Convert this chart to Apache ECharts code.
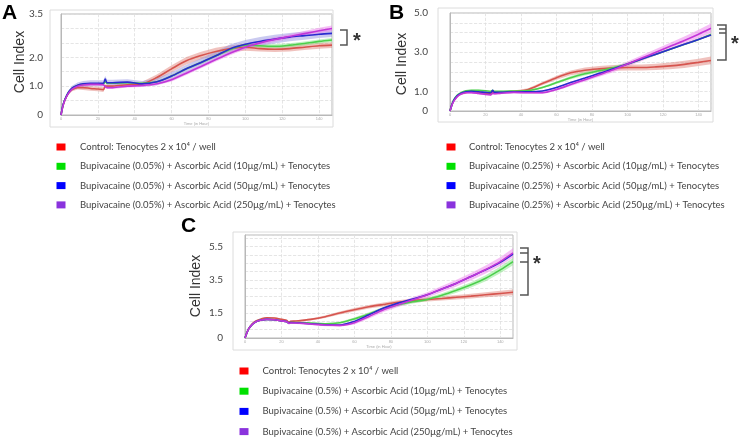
<!DOCTYPE html>
<html><head><meta charset="utf-8">
<script src="https://cdn.jsdelivr.net/npm/echarts@6/dist/echarts.min.js"></script>
<style>html,body{margin:0;padding:0;background:#fff}#c{width:741px;height:440px}</style>
</head><body><div id="c"></div>
<script>
// ---- time points (hours) ----
const hours = [0,1,2,4,6,9,12,16,20,23,24,25,28,36,44,52,60,68,76,84,92,100,108,116,124,132,140,147];

// ---- Panel A: Bupivacaine 0.05% ----
const controlA = [0,0.3,0.5,0.75,0.88,0.95,0.95,0.92,0.9,0.88,1.0,1.0,1.0,1.05,1.08,1.3,1.6,1.88,2.06,2.2,2.3,2.35,2.3,2.28,2.3,2.35,2.4,2.42];
const aa10A    = [0,0.32,0.52,0.78,0.92,1.02,1.06,1.08,1.08,1.08,1.15,1.1,1.1,1.12,1.1,1.15,1.35,1.6,1.82,2.05,2.28,2.42,2.4,2.38,2.42,2.48,2.55,2.6];
const aa50A    = [0,0.32,0.52,0.78,0.93,1.03,1.08,1.1,1.1,1.1,1.25,1.12,1.12,1.14,1.08,1.15,1.35,1.6,1.82,2.05,2.3,2.45,2.55,2.63,2.7,2.75,2.8,2.83];
const aa250A   = [0,0.3,0.5,0.75,0.9,1.0,1.04,1.06,1.06,1.05,0.98,0.95,0.95,1.0,1.02,1.08,1.22,1.45,1.68,1.92,2.15,2.35,2.5,2.62,2.72,2.82,2.92,3.0];
const sdControlA = [0,0.02,0.03,0.05,0.06,0.07,0.08,0.08,0.08,0.08,0.06,0.06,0.06,0.06,0.07,0.1,0.12,0.13,0.13,0.13,0.12,0.12,0.1,0.1,0.1,0.1,0.1,0.1];
const sdAa10A    = [0,0.02,0.02,0.03,0.03,0.03,0.03,0.03,0.03,0.03,0.03,0.03,0.03,0.03,0.03,0.04,0.05,0.05,0.06,0.06,0.06,0.06,0.07,0.07,0.07,0.07,0.07,0.07];
const sdAa50A    = [0,0.02,0.04,0.06,0.08,0.1,0.1,0.1,0.1,0.1,0.1,0.1,0.1,0.1,0.1,0.12,0.13,0.14,0.15,0.15,0.15,0.15,0.15,0.15,0.14,0.14,0.13,0.13];
const sdAa250A   = [0,0.02,0.03,0.04,0.05,0.05,0.05,0.05,0.05,0.05,0.05,0.05,0.05,0.05,0.05,0.05,0.06,0.06,0.06,0.07,0.07,0.07,0.08,0.08,0.08,0.09,0.1,0.1];

// ---- Panel B: Bupivacaine 0.25% ----
const controlB = [0,0.3,0.5,0.75,0.88,0.95,0.98,0.95,0.9,0.87,0.95,0.92,0.95,1.0,1.1,1.4,1.7,1.95,2.08,2.15,2.2,2.22,2.22,2.25,2.3,2.38,2.48,2.58];
const aa10B    = [0,0.32,0.55,0.8,0.92,1.03,1.06,1.05,1.03,1.0,1.05,1.0,1.0,1.02,1.04,1.2,1.45,1.7,1.9,2.05,2.2,2.4,2.65,2.9,3.15,3.4,3.65,3.9];
const aa50B    = [0,0.3,0.52,0.77,0.9,0.98,1.0,0.98,0.95,0.93,1.05,0.95,0.95,0.98,0.98,1.02,1.2,1.45,1.68,1.92,2.15,2.4,2.65,2.9,3.15,3.4,3.65,3.88];
const aa250B   = [0,0.28,0.48,0.72,0.85,0.93,0.94,0.9,0.85,0.82,0.9,0.88,0.9,0.95,0.93,0.93,1.1,1.35,1.6,1.85,2.1,2.4,2.7,3.0,3.3,3.6,3.92,4.22];
const sdControlB = [0,0.02,0.03,0.04,0.04,0.05,0.05,0.05,0.05,0.05,0.05,0.05,0.05,0.05,0.06,0.08,0.1,0.12,0.14,0.15,0.15,0.15,0.15,0.16,0.17,0.18,0.19,0.2];
const sdAa10B    = [0,0.01,0.02,0.03,0.03,0.03,0.03,0.03,0.03,0.03,0.03,0.03,0.03,0.03,0.04,0.05,0.07,0.08,0.09,0.09,0.09,0.08,0.06,0.05,0.05,0.05,0.05,0.05];
const sdAa50B    = [0,0.01,0.02,0.02,0.02,0.02,0.02,0.02,0.02,0.02,0.02,0.02,0.02,0.02,0.02,0.03,0.03,0.03,0.03,0.03,0.03,0.03,0.03,0.03,0.03,0.03,0.03,0.03];
const sdAa250B   = [0,0.02,0.03,0.04,0.05,0.05,0.05,0.05,0.05,0.05,0.05,0.05,0.05,0.05,0.05,0.06,0.07,0.08,0.09,0.1,0.12,0.13,0.15,0.16,0.18,0.2,0.22,0.24];

// ---- Panel C: Bupivacaine 0.5% ----
const controlC = [0,0.3,0.55,0.85,1.02,1.15,1.22,1.2,1.12,1.05,0.95,1.0,1.02,1.12,1.28,1.5,1.7,1.88,2.02,2.15,2.25,2.32,2.38,2.45,2.52,2.6,2.68,2.75];
const aa10C    = [0,0.3,0.55,0.82,0.98,1.08,1.12,1.1,1.03,0.98,0.9,0.93,0.93,0.9,0.86,0.92,1.15,1.45,1.78,2.0,2.18,2.32,2.57,2.87,3.2,3.6,4.1,4.6];
const aa50C    = [0,0.3,0.55,0.82,0.98,1.08,1.12,1.1,1.03,0.98,0.9,0.93,0.92,0.86,0.8,0.78,1.0,1.4,1.8,2.1,2.35,2.6,2.95,3.3,3.7,4.1,4.55,5.05];
const aa250C   = [0,0.3,0.55,0.82,0.98,1.08,1.12,1.1,1.03,0.98,0.88,0.9,0.9,0.84,0.78,0.76,0.92,1.3,1.7,2.0,2.3,2.6,2.95,3.3,3.7,4.12,4.6,5.12];
const sdControlC = [0,0.02,0.03,0.04,0.05,0.05,0.05,0.05,0.05,0.05,0.05,0.05,0.05,0.06,0.07,0.09,0.1,0.11,0.12,0.12,0.13,0.13,0.13,0.14,0.14,0.15,0.16,0.17];
const sdAa10C    = [0,0.01,0.02,0.03,0.03,0.03,0.03,0.03,0.03,0.03,0.03,0.03,0.03,0.04,0.05,0.06,0.08,0.1,0.1,0.1,0.1,0.1,0.12,0.14,0.16,0.18,0.2,0.22];
const sdAa50C    = [0,0.01,0.01,0.02,0.02,0.02,0.02,0.02,0.02,0.02,0.02,0.02,0.02,0.02,0.02,0.03,0.03,0.03,0.03,0.03,0.03,0.03,0.03,0.03,0.03,0.03,0.03,0.03];
const sdAa250C   = [0,0.02,0.03,0.04,0.05,0.05,0.05,0.05,0.05,0.05,0.05,0.05,0.05,0.06,0.07,0.08,0.1,0.12,0.13,0.14,0.15,0.16,0.18,0.2,0.22,0.24,0.26,0.28];

// ---- labels ----
const namesA = ['Control: Tenocytes 2 x 10\u2074 / well',
  'Bupivacaine (0.05%) + Ascorbic Acid (10\u00b5g/mL) + Tenocytes',
  'Bupivacaine (0.05%) + Ascorbic Acid (50\u00b5g/mL) + Tenocytes',
  'Bupivacaine (0.05%) + Ascorbic Acid (250\u00b5g/mL) + Tenocytes'];
const namesB = ['Control: Tenocytes 2 x 10\u2074 / well',
  'Bupivacaine (0.25%) + Ascorbic Acid (10\u00b5g/mL) + Tenocytes',
  'Bupivacaine (0.25%) + Ascorbic Acid (50\u00b5g/mL) + Tenocytes',
  'Bupivacaine (0.25%) + Ascorbic Acid (250\u00b5g/mL) + Tenocytes'];
const namesC = ['Control: Tenocytes 2 x 10\u2074 / well',
  'Bupivacaine (0.5%) + Ascorbic Acid (10\u00b5g/mL) + Tenocytes',
  'Bupivacaine (0.5%) + Ascorbic Acid (50\u00b5g/mL) + Tenocytes',
  'Bupivacaine (0.5%) + Ascorbic Acid (250\u00b5g/mL) + Tenocytes'];
const yTicksA = [0, 1.0, 2.0, 3.5], yTickTextA = ['0','1.0','2.0','3.5'];
const yTicksB = [0, 1.0, 3.0, 5.0], yTickTextB = ['0','1.0','3.0','5.0'];
const yTicksC = [0, 1.5, 3.5, 5.5], yTickTextC = ['0','1.5','3.5','5.5'];
const panelLetters = ['A','B','C'];
const yTitle = 'Cell Index';
const xTitle = 'Time (in Hour)';

// ---- styling ----
const lineColors = ['#d6544e','#4ccf4c','#2a2ad0','#c236d8'];
const bandColors = ['rgba(222,120,110,0.45)','rgba(120,226,120,0.45)','rgba(150,150,226,0.5)','rgba(238,128,238,0.5)'];
const legendColors = ['#ff0000','#00e000','#0000ff','#8a33dd'];
const font = 'Lato, "Open Sans", sans-serif';

const panels = [
  {means:[controlA,aa10A,aa50A,aa250A], sds:[sdControlA,sdAa10A,sdAa50A,sdAa250A], names:namesA,
   grid:{left:61,top:14,width:271,height:101}, ymax:3.5, ticks:yTicksA, tickText:yTickTextA, margin:18,
   legend:{left:51.5, top:136, gap:7.3, pad:9.5}},
  {means:[controlB,aa10B,aa50B,aa250B], sds:[sdControlB,sdAa10B,sdAa50B,sdAa250B], names:namesB,
   grid:{left:450,top:13,width:261,height:98}, ymax:5.0, ticks:yTicksB, tickText:yTickTextB, margin:22,
   legend:{left:441.5, top:136, gap:7.3, pad:8.5}},
  {means:[controlC,aa10C,aa50C,aa250C], sds:[sdControlC,sdAa10C,sdAa50C,sdAa250C], names:namesC,
   grid:{left:245,top:235,width:268,height:103}, ymax:6.2, ticks:yTicksC, tickText:yTickTextC, margin:22,
   legend:{left:234.5, top:360, gap:8.2, pad:9}}
];

const grids = [], xAxes = [], yAxes = [], series = [], legends = [];
panels.forEach((p, pi) => {
  grids.push(Object.assign({show:true, borderColor:'#b8b8b8', borderWidth:1, containLabel:false}, p.grid));
  xAxes.push({type:'value', gridIndex:pi, min:0, max:147, interval:20,
    axisLine:{show:true, lineStyle:{color:'#b8b8b8'}}, axisTick:{show:false},
    axisLabel:{fontSize:4, color:'#aaa', margin:2, showMaxLabel:false},
    name:xTitle, nameLocation:'middle', nameGap:7, nameTextStyle:{fontSize:4, color:'#aaa'},
    splitLine:{show:true, lineStyle:{color:'#dedede', type:'dashed', width:0.8}}});
  yAxes.push({type:'value', gridIndex:pi, min:0, max:p.ymax, interval:0.5,
    axisLine:{show:true, lineStyle:{color:'#b8b8b8'}}, axisTick:{show:false},
    axisLabel:{fontSize:10, color:'#444', fontFamily:font, margin:p.margin, showMaxLabel:true,
      formatter: v => { const i = p.ticks.findIndex(t => Math.abs(t - v) < 1e-6); return i >= 0 ? p.tickText[i] : ''; }},
    splitLine:{show:true, lineStyle:{color:'#dedede', type:'dashed', width:0.8}}});
  // error bands (mean ± sd), drawn through the axis scales
  p.means.forEach((m, k) => {
    const sd = p.sds[k];
    series.push({type:'custom', xAxisIndex:pi, yAxisIndex:pi, silent:true, z:1,
      data: hours.map((t, i) => [t, m[i] - sd[i], m[i] + sd[i]]),
      encode:{x:0, y:[1, 2]},
      renderItem: (params, api) => {
        if (params.dataIndex !== 0) return null;
        const up = hours.map((t, i) => api.coord([t, m[i] + sd[i]]));
        const lo = hours.map((t, i) => api.coord([t, m[i] - sd[i]])).reverse();
        return {type:'polygon', shape:{points: up.concat(lo)}, style:{fill: bandColors[k]}};
      }});
  });
  // mean lines
  p.means.forEach((m, k) => {
    series.push({type:'line', name:p.names[k], xAxisIndex:pi, yAxisIndex:pi, symbol:'none', smooth:0.3,
      color:lineColors[k], lineStyle:{width:1.6, color:lineColors[k]},
      data: hours.map((t, i) => [t, m[i]]), z:3 + k});
  });
  legends.push({orient:'vertical', left:p.legend.left, top:p.legend.top, height:90, itemWidth:9, itemHeight:7,
    itemGap:p.legend.gap, icon:'rect', selectedMode:false,
    textStyle:{fontSize:9.5, color:'#444', fontFamily:font, lineHeight:12, padding:[0,0,0,p.legend.pad]},
    data: p.names.map((n, k) => ({name:n, itemStyle:{color:legendColors[k]}}))});
});

const frames = [[50,10,283,117],[438,8,275,114],[233,232,284,118]];
const titlePos = [[20,62],[402,64],[196,286]];
const letterPos = [[2,3],[389,3],[181,216]];
const graphic = [];
frames.forEach(f => graphic.push({type:'rect', shape:{x:f[0],y:f[1],width:f[2],height:f[3]},
  style:{fill:null, stroke:'#dcdcdc', lineWidth:1}, silent:true}));
titlePos.forEach(tp => graphic.push({type:'text', x:tp[0], y:tp[1], rotation:Math.PI/2,
  style:{text:yTitle, fontSize:14, fill:'#333', font:'14px ' + font, align:'center', verticalAlign:'middle'}}));
letterPos.forEach((lp, i) => graphic.push({type:'text', x:lp[0], y:lp[1],
  style:{text:panelLetters[i], font:'bold 21px Arial, "Liberation Sans", sans-serif', fill:'#000', verticalAlign:'top'}}));
// significance brackets
const br = {stroke:'#555', lineWidth:1.5, fill:null};
graphic.push({type:'polyline', shape:{points:[[340,30],[347,30],[347,45],[340,45]]}, style:br});
graphic.push({type:'polyline', shape:{points:[[717,25],[726,25],[726,60],[717,60]]}, style:br});
graphic.push({type:'polyline', shape:{points:[[719,29],[726,29]]}, style:br});
graphic.push({type:'polyline', shape:{points:[[719,33],[726,33]]}, style:br});
graphic.push({type:'polyline', shape:{points:[[520,248],[528,248],[528,295],[520,295]]}, style:br});
graphic.push({type:'polyline', shape:{points:[[520,253],[528,253]]}, style:br});
graphic.push({type:'polyline', shape:{points:[[520,262],[528,262]]}, style:br});
[[357,41],[735,44],[537,264]].forEach(ap => graphic.push({type:'text', x:ap[0], y:ap[1],
  style:{text:'*', font:'bold 20px Arial, sans-serif', fill:'#333', align:'center', verticalAlign:'middle'}}));

const chart = echarts.init(document.getElementById('c'), null, {renderer:'canvas'});
chart.setOption({
  backgroundColor:'#fff', animation:false,
  grid:grids, xAxis:xAxes, yAxis:yAxes, series, legend:legends, graphic
});
</script></body></html>
